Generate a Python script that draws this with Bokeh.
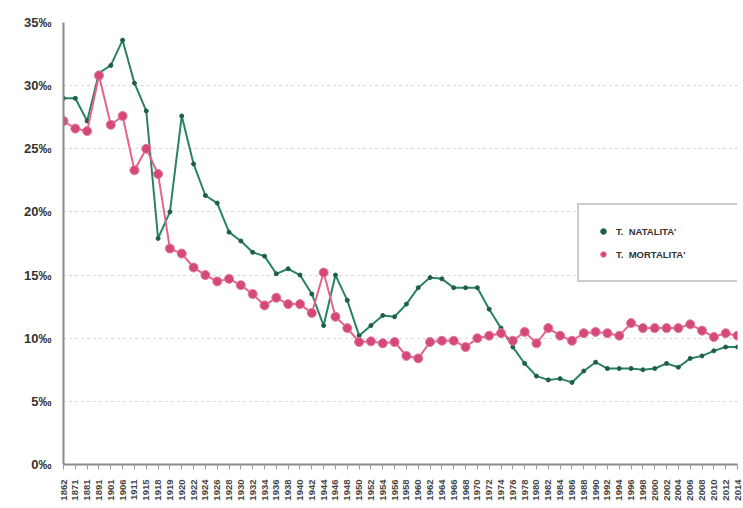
from bokeh.plotting import figure
from bokeh.models import FixedTicker, Legend, LegendItem, Range1d, ColumnDataSource
from bokeh.embed import file_html
from bokeh.resources import INLINE
import math

years = ["1862", "1871", "1881", "1891", "1901", "1906", "1911", "1915", "1918", "1919",
         "1920", "1922", "1924", "1926", "1928", "1930", "1932", "1934", "1936", "1938",
         "1940", "1942", "1944", "1946", "1948", "1950", "1952", "1954", "1956", "1958",
         "1960", "1962", "1964", "1966", "1968", "1970", "1972", "1974", "1976", "1978",
         "1980", "1982", "1984", "1986", "1988", "1990", "1992", "1994", "1996", "1998",
         "2000", "2002", "2004", "2006", "2008", "2010", "2012", "2014"]

natalita = [29.0, 29.0, 27.2, 31.0, 31.6, 33.6, 30.2, 28.0, 17.9, 20.0,
            27.6, 23.8, 21.3, 20.7, 18.4, 17.7, 16.8, 16.5, 15.1, 15.5,
            15.0, 13.5, 11.0, 15.0, 13.0, 10.2, 11.0, 11.8, 11.7, 12.7,
            14.0, 14.8, 14.7, 14.0, 14.0, 14.0, 12.3, 10.8, 9.3, 8.0,
            7.0, 6.7, 6.8, 6.5, 7.4, 8.1, 7.6, 7.6, 7.6, 7.5,
            7.6, 8.0, 7.7, 8.4, 8.6, 9.0, 9.3, 9.3]

mortalita = [27.2, 26.6, 26.4, 30.8, 26.9, 27.6, 23.3, 25.0, 23.0, 17.1,
             16.7, 15.6, 15.0, 14.5, 14.7, 14.2, 13.5, 12.6, 13.2, 12.7,
             12.7, 12.0, 15.2, 11.7, 10.8, 9.7, 9.75, 9.6, 9.7, 8.6,
             8.4, 9.7, 9.8, 9.8, 9.3, 10.0, 10.2, 10.4, 9.8, 10.5,
             9.6, 10.8, 10.2, 9.8, 10.4, 10.5, 10.4, 10.2, 11.2, 10.8,
             10.8, 10.8, 10.8, 11.1, 10.6, 10.1, 10.4, 10.2]

y_ticks = [0, 5, 10, 15, 20, 25, 30, 35]
y_labels = ["0‰", "5‰", "10‰", "15‰", "20‰", "25‰", "30‰", "35‰"]

idx = list(range(len(years)))
src = ColumnDataSource(dict(x=idx, nat=natalita, mor=mortalita))

p = figure(width=743, height=508, output_backend="svg", toolbar_location=None,
           x_range=Range1d(0, len(years) - 1), y_range=Range1d(0, 35),
           min_border_left=63, min_border_right=6, min_border_top=22, min_border_bottom=44)
p.outline_line_color = None
p.background_fill_color = "white"

# grid
p.xgrid.grid_line_color = None
p.ygrid.grid_line_color = "#c8c8c8"
p.ygrid.grid_line_dash = "2 4"
p.ygrid.grid_line_width = 1

# y axis
p.yaxis.ticker = FixedTicker(ticks=y_ticks)
p.yaxis.major_label_overrides = {t: l for t, l in zip(y_ticks, y_labels)}
p.yaxis.axis_line_color = "#8a8a8a"
p.yaxis.axis_line_width = 2
p.yaxis.major_tick_line_color = None
p.yaxis.minor_tick_line_color = None
p.yaxis.major_label_text_font = "Liberation Sans"
p.yaxis.major_label_text_font_size = "13px"
p.yaxis.major_label_text_font_style = "bold"
p.yaxis.major_label_text_color = "#333333"
p.yaxis.major_label_standoff = 6

# x axis
p.xaxis.ticker = FixedTicker(ticks=idx)
p.xaxis.major_label_overrides = {i: y for i, y in zip(idx, years)}
p.xaxis.major_label_orientation = math.pi / 2
p.xaxis.axis_line_color = "#8a8a8a"
p.xaxis.axis_line_width = 2
p.xaxis.major_tick_line_color = "#9a9a9a"
p.xaxis.major_tick_out = 5
p.xaxis.major_tick_in = 0
p.xaxis.minor_tick_line_color = None
p.xaxis.major_label_text_font = "Liberation Sans"
p.xaxis.major_label_text_font_size = "9.5px"
p.xaxis.major_label_text_font_style = "bold"
p.xaxis.major_label_text_color = "#444444"
p.xaxis.major_label_standoff = 10

# natalita (green)
p.line("x", "nat", source=src, line_color="#2a8265", line_width=2)
r_nat = p.scatter("x", "nat", source=src, size=4, fill_color="#1f5e48", line_color="#1f5e48")

# mortalita (pink)
p.line("x", "mor", source=src, line_color="#e6628f", line_width=2)
r_mor = p.scatter("x", "mor", source=src, size=9, fill_color="#d4487a", line_color="#e07a9c", line_width=1)

legend = Legend(items=[LegendItem(label="T.  NATALITA'", renderers=[r_nat]),
                       LegendItem(label="T.  MORTALITA'", renderers=[r_mor])],
                location=(514, 182))
legend.label_text_font = "Liberation Sans"
legend.label_text_font_size = "9.5px"
legend.label_text_font_style = "bold"
legend.label_text_color = "#333333"
legend.border_line_color = "#9a9a9a"
legend.border_line_width = 2
legend.background_fill_color = "white"
legend.background_fill_alpha = 1
legend.padding = 17
legend.spacing = 5
legend.glyph_width = 14
legend.glyph_height = 18
legend.label_standoff = 6
legend.label_width = 112
p.add_layout(legend, "center")

open("out.html", "w").write(file_html(p, INLINE))
